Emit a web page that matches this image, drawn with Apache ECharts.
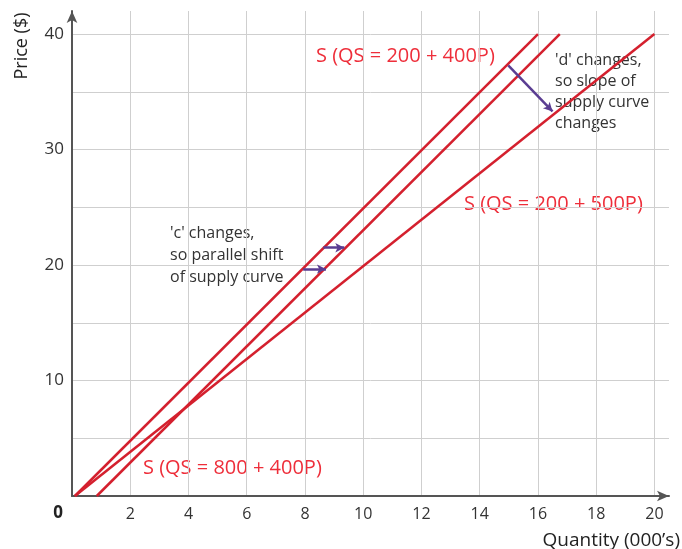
<!DOCTYPE html>
<html>
<head>
<meta charset="utf-8">
<script src="https://cdn.jsdelivr.net/npm/echarts@6/dist/echarts.min.js"></script>
<style>
html,body{margin:0;padding:0;background:#fff;}
#c{width:682px;height:549px;}
</style>
</head>
<body>
<div id="c"></div>
<script>
// Price points (y) at which each supply line is sampled
const prices = [0, 40];
// Quantity (000's) at those prices for each supply curve
const qs200_400 = [0.1, 16.0];
const qs800_400 = [0.85, 16.75];
const qs200_500 = [0.1, 20.0];
// Tick labels
const xTicks = [2, 4, 6, 8, 10, 12, 14, 16, 18, 20];
const yTicks = [10, 20, 30, 40];
// Annotation arrows [[xStart, yStart], [xEnd, yEnd]]
const slopeArrow = [[14.98, 37.3], [16.5, 33.3]];
const shiftArrowUpper = [[8.63, 21.5], [9.35, 21.5]];
const shiftArrowLower = [[7.94, 19.65], [8.72, 19.65]];

const RED_LINE = '#d4202e';
const RED_TEXT = '#ee2e3a';
const PURPLE = '#5a3d92';
const FONT = 'Open Sans';

function pts(qs) { return qs.map((q, i) => [q, prices[i]]); }

const chart = echarts.init(document.getElementById('c'));
const arrowLine = (seg) => [{ coord: seg[0] }, { coord: seg[1] }];

chart.setOption({
  animation: false,
  textStyle: { fontFamily: FONT },
  grid: { left: 72, right: 13, top: 11, bottom: 53, containLabel: false },
  xAxis: {
    type: 'value', min: 0, max: 20.5, interval: 2,
    axisLine: { show: true, lineStyle: { color: '#555', width: 2 }, symbol: ['none', 'arrow'], symbolSize: [8, 12] },
    axisTick: { show: false },
    axisLabel: {
      color: '#333', fontSize: 16, margin: 10, fontFamily: FONT,
      formatter: v => xTicks.includes(v) ? String(v) : ''
    },
    splitLine: { show: true, showMaxLine: false, lineStyle: { color: '#cfcfcf', width: 1 } }
  },
  yAxis: {
    type: 'value', min: 0, max: 42, interval: 5,
    axisLine: { show: true, lineStyle: { color: '#555', width: 2 }, symbol: ['none', 'arrow'], symbolSize: [8, 12] },
    axisTick: { show: false },
    axisLabel: {
      color: '#333', fontSize: 17, margin: 8, fontFamily: FONT,
      formatter: v => yTicks.includes(v) ? String(v) : ''
    },
    splitLine: { show: true, showMaxLine: false, lineStyle: { color: '#cfcfcf', width: 1 } }
  },
  series: [
    {
      type: 'line', data: pts(qs200_400), showSymbol: false, symbol: 'none',
      lineStyle: { color: RED_LINE, width: 2.5 }, z: 3,
      markLine: {
        silent: true, symbol: ['none', 'arrow'], symbolSize: [7, 9],
        label: { show: false },
        lineStyle: { color: PURPLE, width: 2.5, type: 'solid' },
        data: [arrowLine(slopeArrow), arrowLine(shiftArrowUpper), arrowLine(shiftArrowLower)]
      }
    },
    {
      type: 'line', data: pts(qs800_400), showSymbol: false, symbol: 'none',
      lineStyle: { color: RED_LINE, width: 2.5 }, z: 3
    },
    {
      type: 'line', data: pts(qs200_500), showSymbol: false, symbol: 'none',
      lineStyle: { color: RED_LINE, width: 2.5 }, z: 3
    }
  ],
  graphic: [
    { type: 'text', x: 316, y: 56, style: { text: 'S (QS = 200 + 400P)', fill: RED_TEXT, font: '20px "Open Sans"', verticalAlign: 'middle' } },
    { type: 'text', x: 464, y: 204, style: { text: 'S (QS = 200 + 500P)', fill: RED_TEXT, font: '20px "Open Sans"', verticalAlign: 'middle' } },
    { type: 'text', x: 143, y: 468, style: { text: 'S (QS = 800 + 400P)', fill: RED_TEXT, font: '20px "Open Sans"', verticalAlign: 'middle' } },
    { type: 'text', left: 555, top: 50, style: { text: "'d' changes,\nso slope of\nsupply curve\nchanges", fill: '#333', font: '16px "Open Sans"', lineHeight: 21 } },
    { type: 'text', left: 170, top: 222, style: { text: "'c' changes,\nso parallel shift\nof supply curve", fill: '#333', font: '16px "Open Sans"', lineHeight: 22 } },
    { type: 'text', x: 58, y: 513, style: { text: '0', fill: '#222', font: 'bold 17px "Open Sans"', align: 'center', verticalAlign: 'middle' } },
    { type: 'text', x: 22, y: 46, rotation: Math.PI / 2, style: { text: 'Price ($)', fill: '#222', font: '18px "Open Sans"', align: 'center', verticalAlign: 'middle' } },
    { type: 'text', x: 680, y: 541, style: { text: "Quantity (000’s)", fill: '#222', font: '19px "Open Sans"', align: 'right', verticalAlign: 'middle' } }
  ]
});
</script>
</body>
</html>
